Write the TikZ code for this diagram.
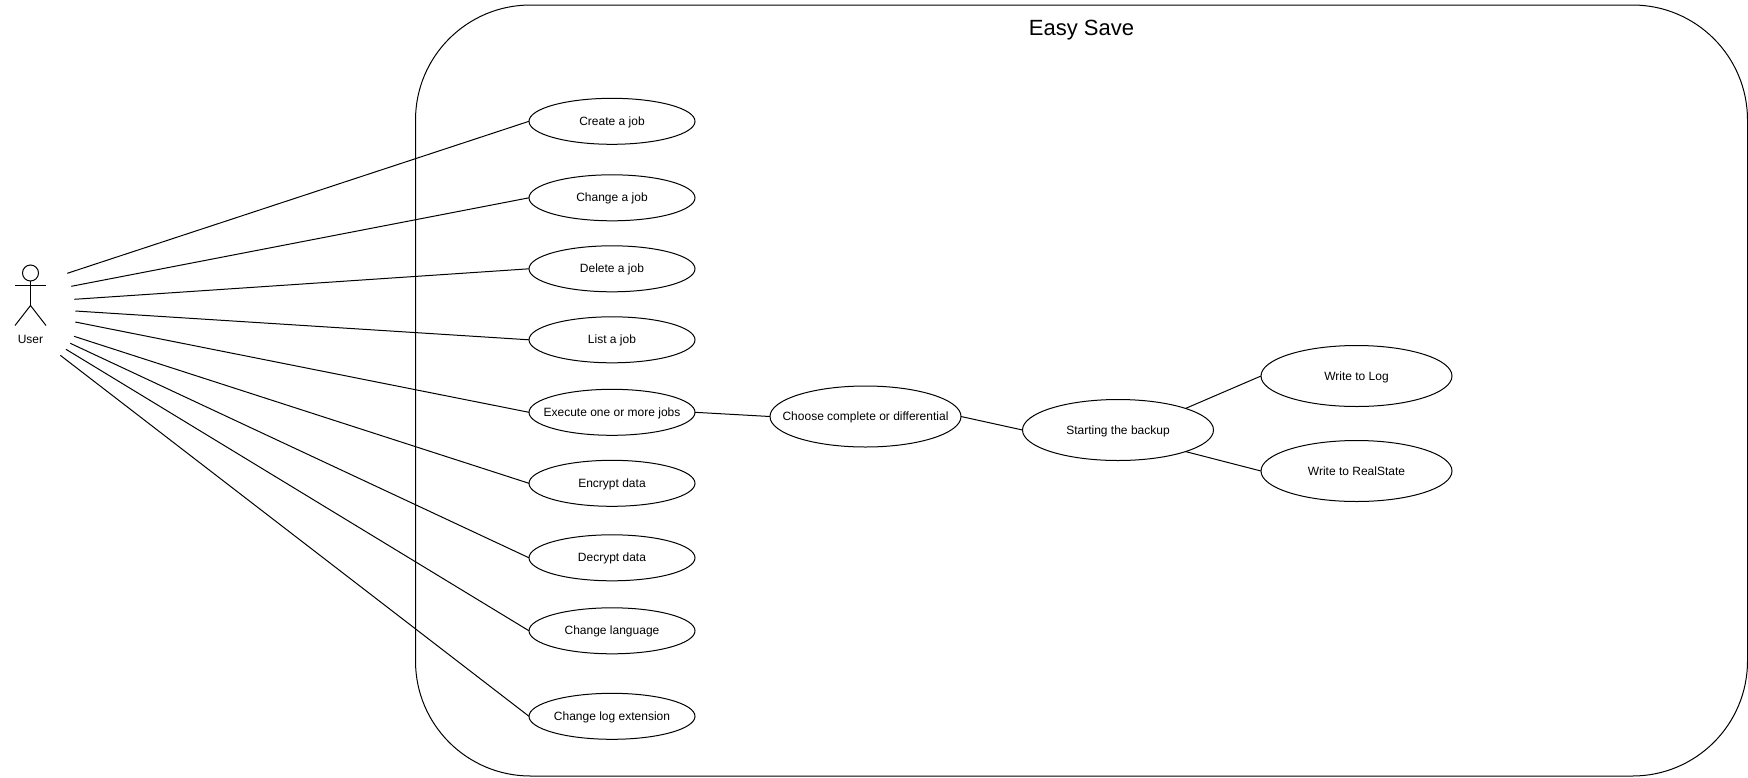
\documentclass[tikz,border=0pt]{standalone}
\usepackage{fontspec}
\setmainfont{Liberation Sans}
\usetikzlibrary{positioning,shapes.geometric}

\begin{document}
\begin{tikzpicture}[
    x=1pt,
    y=-1pt,
    font=\fontsize{12}{14}\selectfont,
    line width=1pt,
    system/.style={
        draw,
        rounded corners=115pt,
        minimum width=1332pt,
        minimum height=771pt,
        inner sep=0pt,
        outer sep=0pt
    },
    usecase/.style={
        draw,
        ellipse,
        minimum width=166pt,
        minimum height=46pt,
        inner xsep=-30pt,
        inner ysep=0pt,
        outer sep=0pt,
        text height=10pt,
        text depth=2pt,
        align=center
    },
    subcase/.style={
        usecase,
        minimum width=191pt,
        minimum height=61pt
    },
    link/.style={
        line width=1pt
    }
]
\useasboundingbox (0,0) rectangle (1748,777);

\node[system] (easysave) at (1081.5,390.5) {};
\node[font=\fontsize{22}{26}\selectfont, below=11pt of easysave.north] (title) {Easy Save};

\node[usecase] (create) at (612,121.3) {Create a job};
\node[usecase, below=30.5pt of create] (change) {Change a job};
\node[usecase, below=25pt of change] (delete) {Delete a job};
\node[usecase, below=25pt of delete] (list) {List a job};
\node[usecase, below=26.5pt of list] (execute) {Execute one or more jobs};
\node[usecase, below=25pt of execute] (encrypt) {Encrypt data};
\node[usecase, below=28.5pt of encrypt] (decrypt) {Decrypt data};
\node[usecase, below=27pt of decrypt] (language) {Change language};
\node[usecase, below=39.5pt of language] (extension) {Change log extension};

\node[subcase] (choose) at (865.5,416.5) {Choose complete or differential};
\node[subcase] (backup) at (1118,430) {Starting the backup};
\node[subcase] (log) at (1356.5,376) {Write to Log};
\node[subcase] (realstate) at (1356.5,471) {Write to RealState};

% actor
\node[draw, circle, minimum size=16pt, inner sep=0pt, outer sep=0pt] (head) at (30.5,273) {};
\coordinate (hip) at (30.5,305.5);
\coordinate (armL) at (15,285);
\coordinate (armR) at (46,285);
\coordinate (footL) at (15,325.5);
\coordinate (footR) at (46,325.5);
\node (user) at (30.5,339) {User};
\draw[link] (head) -- (hip);
\draw[link] (armL) -- (armR);
\draw[link] (footL) -- (hip) -- (footR);

\coordinate (u1) at (67.3,273.3);
\coordinate (u2) at (71.3,286.3);
\coordinate (u3) at (74.3,299.3);
\coordinate (u4) at (75.3,311);
\coordinate (u5) at (75.3,322);
\coordinate (u6) at (74,336.3);
\coordinate (u7) at (70.3,343.3);
\coordinate (u8) at (66,349.3);
\coordinate (u9) at (60.3,355.3);

\draw[link] (u1) -- (create.west);
\draw[link] (u2) -- (change.west);
\draw[link] (u3) -- (delete.west);
\draw[link] (u4) -- (list.west);
\draw[link] (u5) -- (execute.west);
\draw[link] (u6) -- (encrypt.west);
\draw[link] (u7) -- (decrypt.west);
\draw[link] (u8) -- (language.west);
\draw[link] (u9) -- (extension.west);

\draw[link] (execute.east) -- (choose.west);
\draw[link] (choose.east) -- (backup.west);
\draw[link] (backup.north east) -- (log.west);
\draw[link] (backup.south east) -- (realstate.west);

\end{tikzpicture}
\end{document}
